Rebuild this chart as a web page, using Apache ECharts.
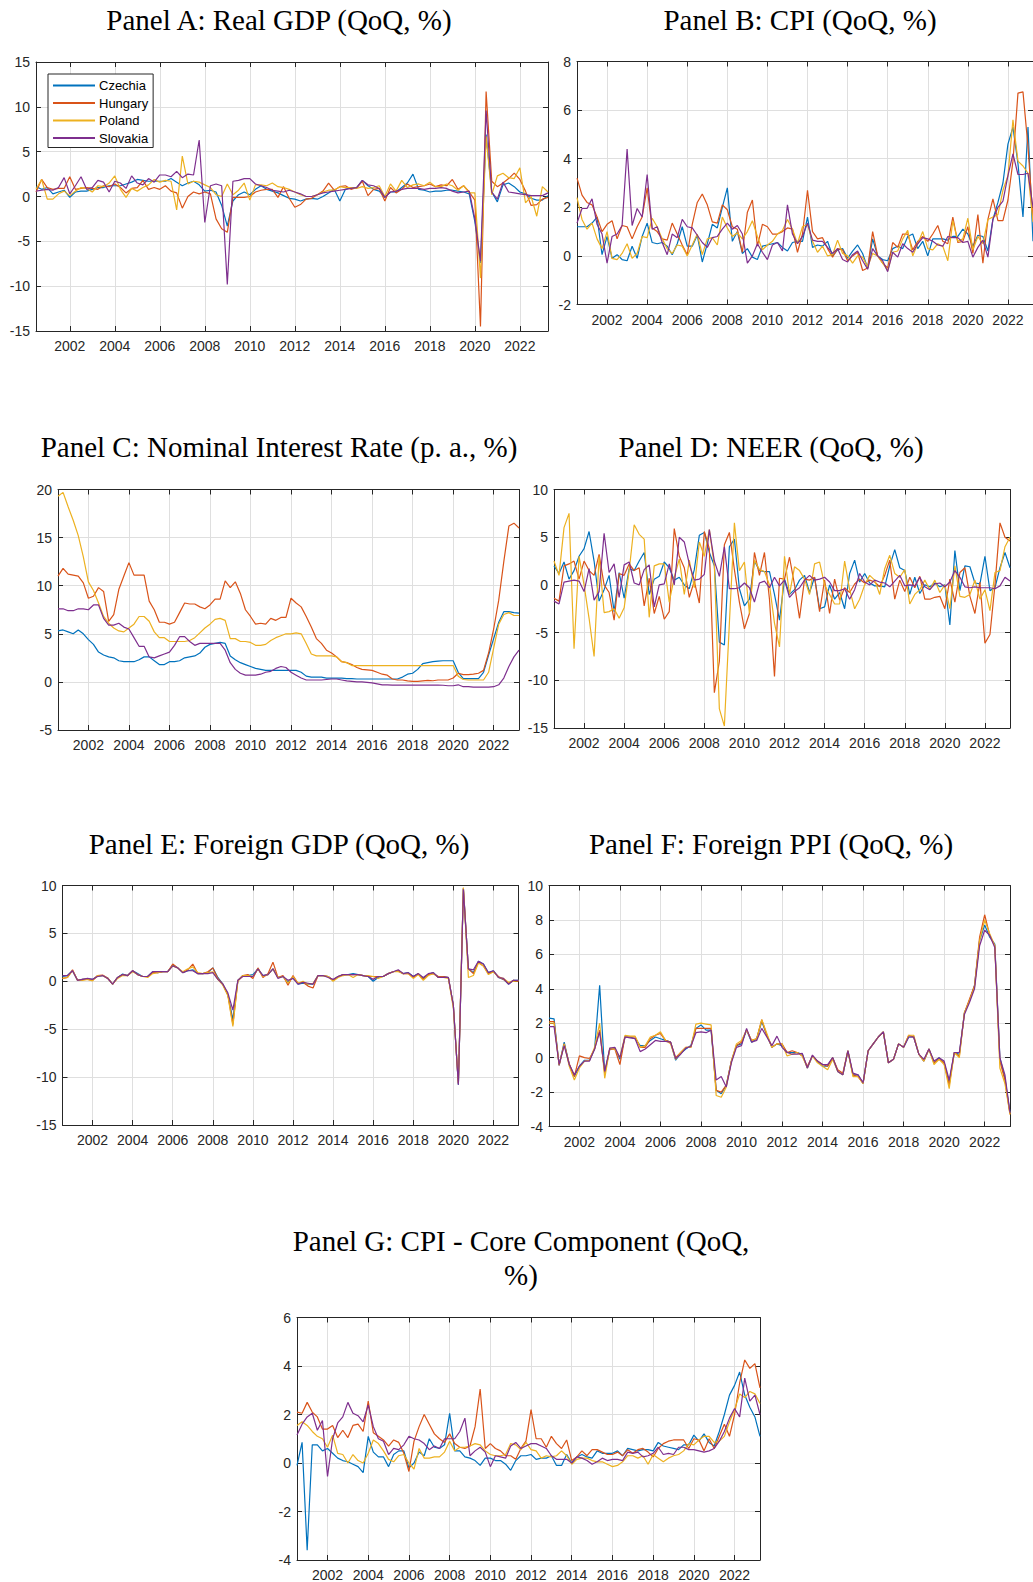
<!DOCTYPE html>
<html><head><meta charset="utf-8">
<script src="https://cdn.jsdelivr.net/npm/echarts@6/dist/echarts.min.js"></script>
<style>html,body{margin:0;padding:0;background:#fff;}#chart{width:1033px;height:1582px;}</style>
</head><body><div id="chart"></div>
<script>
const countries = ['Czechia','Hungary','Poland','Slovakia'];
const colors = ['#0072BD','#D95319','#EDB120','#7E2F8E'];
const tickYears = ['2002','2004','2006','2008','2010','2012','2014','2016','2018','2020','2022'];
// quarterly categories 2000Q3 .. 2023Q2
const quarters = [];
for (let y = 2000; y <= 2023; y++) for (let q = 1; q <= 4; q++) {
  if ((y === 2000 && q < 3) || (y === 2023 && q > 2)) continue;
  quarters.push(y + 'Q' + q);
}

// Panel A: Real GDP (QoQ, %)
const gdpCZ = [1.1,0.8,
1.0,0.3,0.5,0.7, -0.1,0.5,0.6,0.6, 0.8,1.0,1.0,1.2, 1.2,1.2,1.4,1.6, 1.9,1.8,1.7,1.7,
1.7,1.7,2.0,1.6, 1.2,1.5,1.7,1.3, 0.6,0.7,0.5,-1.0, -3.3,-0.5,0.2,0.5, 0.2,0.8,1.2,0.8,
0.6,0.4,0.1,-0.2, -0.3,-0.5,-0.3,-0.2, -0.3,0.0,0.4,0.8, -0.5,0.8,1.0,1.0, 1.8,1.2,0.8,0.6,
-0.1,0.5,0.5,1.0, 1.5,2.5,0.8,0.7, 0.5,0.6,0.6,0.7, 0.7,0.6,0.5,0.3, -2.8,-7.4,6.9,0.5,
-0.6,1.3,1.5,1.1, 0.5,0.3,-0.2,-0.4,
-0.4,0.1];
const gdpHU = [0.5,1.9,
1.0,0.8,0.9,0.9, 2.2,0.8,0.9,1.0, 0.9,0.8,1.2,1.1, 1.4,1.0,0.4,0.9, 1.0,1.8,0.8,1.0,
0.8,1.2,0.6,0.4, -1.3,0.0,0.5,0.3, 0.5,0.3,-2.5,-3.6, -4.0,-0.1,-0.1,-0.1, 0.0,0.5,0.7,0.8,
0.8,-0.1,1.1,-0.2, -1.2,-0.9,-0.3,-0.2, 0.2,0.6,1.5,0.7, 1.1,1.2,0.8,1.0, 1.7,0.1,0.8,0.9,
-0.5,1.0,0.4,0.8, 1.4,1.0,1.1,1.2, 1.4,1.1,1.3,1.2, 1.9,0.8,1.2,0.5, -0.4,-14.5,11.7,1.7,
1.1,1.5,2.0,2.6, 1.9,0.6,-1.0,-0.9,
-0.3,-0.1];
const gdpPL = [0.8,1.9,
-0.3,-0.3,0.3,0.6, 0.1,0.6,1.0,0.9, 0.5,1.2,1.1,1.5, 2.3,0.8,-0.1,0.9, 0.6,1.0,1.3,1.9,
1.6,1.8,1.7,-1.5, 4.5,1.4,1.7,1.6, 1.3,1.0,0.2,0.0, 1.4,0.2,0.7,1.5, -0.4,1.3,1.3,1.2,
1.5,1.1,1.0,0.8, 0.5,0.2,0.0,0.0, 0.2,0.5,0.7,0.7, 1.1,1.0,1.0,0.9, 1.1,0.9,1.0,1.2,
0.0,1.4,0.6,1.8, 1.0,1.3,1.4,1.2, 1.6,1.1,1.1,1.4, 1.2,0.7,1.2,0.4, 0.4,-9.1,6.7,0.2,
2.3,2.6,2.1,2.0, 3.2,-0.7,0.0,-2.2,
1.1,0.5];
const gdpSK = [0.6,0.7,
0.8,0.7,1.0,2.1, 0.3,1.2,2.2,0.8, 1.0,1.8,1.6,0.5, 1.7,1.5,0.9,2.3, 1.5,1.3,2.0,1.6,
2.4,2.4,2.2,2.8, 2.1,2.5,2.4,6.3, -2.9,1.2,1.4,1.2, -9.8,1.7,1.8,2.0, 2.0,1.4,1.2,1.0,
0.7,0.6,0.5,0.7, 0.5,0.3,0.0,0.0, 0.2,0.4,0.5,0.6, 0.7,0.8,0.9,1.0, 1.8,1.3,1.2,0.9,
-0.1,0.5,0.6,0.8, 0.9,0.9,0.9,0.8, 0.9,0.9,1.0,0.9, 0.6,0.4,0.5,0.6, -2.5,-7.2,9.6,0.5,
-0.3,1.6,0.5,0.4, 0.3,0.2,0.1,0.1,
0.1,0.4];

// Panel B: CPI (QoQ, %)
const cpiCZ = [1.2,1.2,
1.2,1.35,1.6,0.05, 0.8,-0.1,0.05,-0.15, -0.2,0.4,-0.1,0.8, 1.35,0.55,0.5,0.55, 0.4,0.05,0.5,1.2,
0.4,0.4,0.85,-0.25, 0.5,1.3,1.15,2.0, 2.8,0.6,1.0,0.1, 0.3,-0.05,-0.15,0.4, 0.45,0.5,0.55,0.35,
0.2,0.55,0.6,0.6, 1.6,0.35,0.45,0.4, 0.6,0.0,0.25,0.3, -0.1,0.2,0.45,0.1, -0.5,0.7,0.0,-0.15,
-0.2,0.3,0.4,0.3, 0.8,0.9,0.3,0.6, 0.0,0.7,0.7,0.7, 0.65,0.8,0.8,1.1, 0.9,0.4,0.85,0.8,
0.2,1.5,2.2,3.0, 4.6,5.3,3.8,1.6,
5.3,0.6];
const cpiHU = [3.2,2.5,
2.2,2.1,1.6,1.0, 1.3,1.45,0.7,1.25, 1.2,0.7,1.2,1.6, 2.8,1.15,1.0,0.7, 0.65,1.35,0.9,0.45,
0.05,1.3,2.2,2.55, 2.1,1.4,1.35,2.1, 1.9,1.2,1.1,0.15, 1.8,2.3,0.4,1.3, 1.2,0.9,0.9,1.0,
1.15,1.1,0.15,0.9, 2.7,1.0,0.7,0.75, 0.3,-0.05,0.3,0.25, -0.2,0.0,0.15,-0.6, -0.5,1.0,0.0,-0.3,
-0.5,0.55,0.35,0.9, 0.9,0.25,0.6,0.8, 0.6,0.9,1.25,0.6, 0.5,1.6,0.55,0.6, 1.2,0.1,1.7,-0.3,
1.5,2.35,1.45,1.45, 2.3,3.9,6.7,6.75,
4.5,1.5];
const cpiPL = [2.4,1.5,
1.1,1.35,0.7,0.3, 1.0,-0.1,-0.15,0.1, 0.5,-0.1,0.1,0.8, 0.75,1.55,1.2,0.7, 0.3,0.1,0.45,0.4,
0.0,0.45,0.9,0.05, 0.7,0.75,0.45,1.6, 1.15,0.8,0.95,0.7, 1.0,1.45,0.8,0.25, 0.45,0.6,0.9,1.05,
1.5,1.1,0.5,1.2, 1.3,0.6,0.15,0.4, 0.0,0.05,0.65,0.1, 0.0,-0.3,0.0,-0.05, -0.45,0.1,0.0,-0.3,
-0.6,0.15,0.2,0.7, 1.05,0.0,0.5,1.0, 0.3,0.25,0.5,0.4, -0.2,1.45,0.6,0.7, 1.55,0.25,0.8,0.5,
1.5,1.6,1.7,2.7, 3.3,5.6,3.9,3.7,
3.4,1.4];
const cpiSK = [1.35,1.95,
1.95,2.35,1.3,0.9, -0.3,0.8,0.9,1.25, 4.4,1.25,1.95,1.6, 3.35,1.1,1.2,0.55, 0.05,0.9,0.75,1.5,
1.2,1.15,0.85,0.55, 0.35,0.75,0.8,1.1, 1.35,1.1,1.25,0.9, -0.3,0.0,0.5,0.15, -0.15,0.45,0.55,0.2,
2.1,0.9,0.5,0.8, 1.35,0.65,0.6,0.6, 0.35,0.1,0.3,-0.15, -0.25,0.05,0.2,-0.2, -0.55,0.3,0.0,-0.2,
-0.65,0.15,-0.05,0.5, 0.3,0.15,0.5,0.75, 0.7,0.6,0.45,0.4, 0.8,0.75,0.75,0.55, 0.6,-0.05,0.35,0.65,
-0.05,1.5,2.0,2.25, 3.3,4.2,3.35,3.35,
3.4,2.0];

// Panel C: Nominal interest rate (p. a., %)
const rateCZ = [5.3,5.4,
5.2,5.0,5.4,5.0, 4.4,3.9,3.1,2.8, 2.6,2.5,2.2,2.1, 2.1,2.1,2.3,2.6, 2.6,2.2,1.8,1.8,
2.1,2.1,2.2,2.5, 2.6,2.7,3.0,3.6, 3.9,4.0,4.1,4.0, 2.7,2.3,2.0,1.8, 1.6,1.4,1.3,1.2,
1.2,1.2,1.2,1.2, 1.2,1.2,1.0,0.6, 0.5,0.5,0.5,0.4, 0.4,0.4,0.4,0.35, 0.35,0.3,0.3,0.3,
0.3,0.3,0.3,0.3, 0.3,0.3,0.5,0.8, 0.9,1.3,1.9,2.0, 2.1,2.15,2.2,2.2, 2.2,1.0,0.35,0.35,
0.35,0.35,1.0,2.8, 4.5,6.2,7.3,7.3,
7.2,7.15];
const rateHU = [11.0,11.8,
11.2,11.1,11.0,10.3, 8.7,8.9,9.8,9.4, 6.3,7.0,9.6,11.0, 12.4,11.1,11.1,11.1, 8.4,7.5,6.2,6.2,
6.0,6.2,7.2,8.2, 8.1,8.1,7.8,7.6, 8.0,8.6,8.6,10.5, 9.8,10.4,9.2,7.5, 6.8,6.0,6.1,6.0,
6.6,6.4,6.7,6.7, 8.7,8.2,7.8,6.8, 5.7,4.5,4.0,3.3, 3.0,2.6,2.1,2.0, 1.8,1.5,1.3,1.25,
1.2,1.0,0.8,0.7, 0.3,0.2,0.2,0.1, 0.05,0.05,0.1,0.15, 0.12,0.2,0.2,0.2, 0.4,0.9,0.75,0.75,
0.8,0.9,1.2,3.0, 5.5,8.5,12.5,16.2,
16.5,16.0];
const ratePL = [19.3,19.7,
18.2,16.8,15.2,13.0, 10.4,9.5,8.2,6.8, 6.1,5.6,5.3,5.2, 5.6,6.0,6.8,6.8, 6.3,5.2,4.6,4.6,
4.2,4.2,4.2,4.2, 4.3,4.6,5.1,5.6, 6.0,6.5,6.6,6.4, 4.5,4.5,4.2,4.2, 4.1,3.8,3.8,3.9,
4.3,4.6,4.8,5.0, 5.0,5.1,5.0,4.0, 2.9,2.7,2.7,2.7, 2.7,2.6,2.1,2.0, 1.7,1.7,1.7,1.7,
1.7,1.7,1.7,1.7, 1.7,1.7,1.7,1.7, 1.7,1.7,1.7,1.7, 1.7,1.7,1.7,1.7, 1.7,0.6,0.25,0.2,
0.2,0.2,0.2,1.0, 3.5,6.0,7.0,7.2,
6.9,6.9];
const rateSK = [7.6,7.6,
7.4,7.4,7.6,7.6, 7.5,8.0,8.0,6.6, 5.9,5.9,6.1,5.7, 5.5,4.6,3.7,3.7, 2.6,2.5,2.7,2.9,
3.1,3.8,4.7,4.7, 4.2,3.8,4.0,4.0, 4.0,4.0,4.0,3.3, 2.0,1.3,0.9,0.7, 0.7,0.7,0.8,1.0,
1.1,1.4,1.6,1.5, 1.0,0.7,0.4,0.2, 0.2,0.2,0.2,0.25, 0.3,0.3,0.2,0.1, 0.05,0.0,0.0,-0.05,
-0.1,-0.2,-0.3,-0.3, -0.33,-0.33,-0.33,-0.33, -0.33,-0.33,-0.33,-0.33, -0.33,-0.33,-0.35,-0.4, -0.4,-0.3,-0.5,-0.5,
-0.55,-0.55,-0.55,-0.55, -0.5,-0.3,0.4,1.6,
2.6,3.3];

// Panel D: NEER (QoQ, %)
const neerCZ = [2.0,1.2,
2.4,0.6,1.5,3.0, 3.8,5.6,2.5,-1.7, -0.5,1.0,-2.8,1.3, -1.4,1.7,1.5,2.5, 3.4,-1.0,0.6,0.9,
2.4,1.8,0.5,0.8, 0.0,-0.4,1.6,5.2, 5.5,3.4,2.0,-6.0, -6.3,4.0,4.8,-0.4, -2.2,-1.5,2.5,1.5,
1.4,1.4,-1.0,-3.7, 0.6,-1.0,-0.5,0.5, 1.0,-0.8,0.8,-2.5, -2.3,0.0,-1.5,-0.8, -2.5,1.2,2.6,0.3,
1.2,0.2,-0.1,-0.1, -0.2,2.0,3.7,1.8, 1.5,-1.0,0.8,-0.9, 0.0,-0.2,0.2,-0.2, 0.0,-4.2,3.6,-0.6,
2.0,1.9,0.2,0.1, 3.0,-0.6,-0.3,1.8,
3.4,1.8];
const neerHU = [-1.4,-1.7,
2.0,2.2,2.5,0.6, 2.5,1.5,1.0,3.2, 0.0,-0.8,-3.7,1.2, 1.0,2.2,1.5,1.8, -2.2,0.7,-3.0,-1.2,
-3.6,-2.8,5.9,3.0, 1.8,-1.3,0.4,-1.9, 5.6,3.8,-11.3,-8.0, 4.2,5.5,1.6,-1.8, -4.6,-3.0,3.4,1.0,
3.4,-1.5,-9.6,0.7, 0.6,2.9,0.0,-3.5, 0.6,0.5,0.8,-2.8, 0.5,-3.0,0.6,-1.6, -0.3,-0.8,0.1,0.6,
0.2,0.5,0.3,-0.2, 1.0,2.6,-1.5,0.5, -0.7,0.8,-0.3,0.9, -1.5,-1.5,-1.3,-1.2, -2.5,0.6,-1.8,1.3,
1.8,-1.2,-3.0,0.3, -6.1,-5.2,0.0,6.5,
5.0,4.6];
const neerPL = [2.5,1.0,
6.0,7.5,-6.7,3.0, 0.0,-3.5,-7.5,3.0, -2.9,-2.8,-2.5,-3.5, -2.4,1.5,6.3,5.3, 4.8,-3.4,2.0,2.2,
2.2,-1.8,0.8,2.7, -1.0,2.6,-0.3,4.5, 3.0,5.8,2.0,-13.0, -14.8,-4.0,6.5,1.5, 2.4,-3.0,2.6,1.6,
1.4,0.0,-4.0,-6.5, 3.0,-1.0,1.9,1.5, 0.6,-1.0,2.2,2.4, 0.0,-1.0,-2.0,-2.0, 2.5,-0.5,-2.5,-1.5,
0.0,1.0,0.5,-1.0, 1.7,3.1,1.2,0.8, 1.6,-2.0,-1.0,-0.5, 0.5,-0.5,0.5,-0.8, 0.0,-2.5,2.0,-1.2,
-1.3,-1.0,0.5,-1.5, -0.5,-2.7,1.3,1.5,
4.0,5.0];
const neerSK = [-1.7,-2.0,
0.3,0.4,0.5,0.4, -0.7,1.7,-1.6,-0.7, 5.4,1.3,2.2,-1.3, 2.1,2.4,0.2,0.0, 1.6,2.1,-2.3,0.0,
0.1,2.2,0.0,5.0, 4.5,2.2,0.5,0.6, 1.1,5.8,2.5,0.9, 4.0,-0.4,-0.4,-0.3, 0.2,-0.3,-1.8,0.2,
0.4,-0.3,0.8,-0.1, 0.5,-1.3,-0.7,-0.3, 0.5,1.0,0.5,0.6, 0.8,0.3,-0.6,-0.6, -0.4,-1.5,-0.5,1.2,
0.3,0.0,0.5,0.3, 0.2,-0.2,0.4,1.0, -0.1,0.0,-0.1,0.8, -0.2,-0.5,0.1,0.2, -0.2,0.3,1.5,0.8,
-0.2,-0.3,-0.2,-0.3, -0.3,-0.3,-0.4,-0.1,
0.8,0.4];

// Panel E: Foreign GDP (QoQ, %)
const fgdpCZ = [0.5,0.6,
1.1,0.1,0.2,0.25, 0.2,0.55,0.6,0.35, -0.3,0.4,0.75,0.6, 1.1,0.8,0.5,0.5, 1.0,0.9,1.0,1.0,
1.7,1.4,0.9,1.1, 1.2,0.8,0.8,0.9, 1.4,0.4,-0.3,-1.4, -4.0,0.1,0.6,0.6, 0.7,1.3,0.6,0.7,
1.3,0.4,0.5,-0.1, 0.4,-0.3,-0.2,-0.3, -0.3,0.6,0.6,0.5, 0.1,0.5,0.7,0.7, 0.8,0.7,0.6,0.5,
0.0,0.4,0.5,0.8, 1.0,1.1,0.8,0.9, 0.5,0.8,0.3,0.7, 0.9,0.4,0.5,0.4, -2.5,-10.8,9.7,1.3,
0.9,2.1,1.8,0.9, 1.1,0.4,0.2,-0.3,
0.1,0.1];
const fgdpHU = [0.3,0.4,
1.2,0.1,0.2,0.2, 0.1,0.6,0.65,0.35, -0.3,0.4,0.7,0.6, 1.1,0.7,0.5,0.5, 0.9,0.9,1.0,1.0,
1.8,1.4,0.9,1.2, 1.8,0.8,0.8,1.0, 1.4,0.3,-0.3,-1.4, -4.5,0.1,0.6,0.7, 0.3,1.4,0.4,0.8,
2.0,0.4,0.6,-0.4, 0.6,-0.2,-0.1,-0.5, -0.7,0.6,0.6,0.5, 0.1,0.5,0.7,0.7, 0.7,0.7,0.6,0.5,
0.5,0.5,0.5,0.8, 1.0,1.1,0.8,0.8, 0.4,0.8,0.2,0.7, 0.8,0.5,0.5,0.4, -2.5,-10.7,9.7,1.3,
0.8,2.0,1.6,0.8, 1.0,0.5,0.2,-0.2,
0.1,0.0];
const fgdpPL = [0.3,0.4,
1.1,0.1,0.1,0.2, 0.05,0.6,0.6,0.3, -0.3,0.3,0.6,0.6, 1.0,0.7,0.5,0.4, 0.8,0.9,1.0,1.0,
1.6,1.4,1.0,1.3, 1.5,0.9,0.8,0.9, 1.0,0.2,-0.4,-1.5, -4.7,0.0,0.6,0.6, 0.5,1.3,0.5,0.7,
1.3,0.4,0.5,-0.2, 0.5,-0.2,0.0,-0.3, -0.2,0.6,0.6,0.5, 0.0,0.4,0.6,0.7, 0.4,0.7,0.6,0.6,
0.5,0.3,0.5,0.8, 1.0,1.0,0.8,0.8, 0.3,0.7,0.1,0.6, 0.8,0.4,0.4,0.3, -2.8,-10.6,9.8,0.4,
0.6,1.9,1.6,0.7, 1.0,0.4,0.3,-0.1,
0.0,0.1];
const fgdpSK = [0.6,0.6,
1.1,0.1,0.2,0.3, 0.2,0.5,0.6,0.3, -0.3,0.4,0.7,0.6, 1.1,0.7,0.5,0.5, 1.0,1.0,1.0,1.0,
1.6,1.4,0.9,1.1, 1.1,0.8,0.8,0.8, 0.9,0.2,-0.3,-1.2, -3.0,0.1,0.5,0.5, 0.5,1.3,0.6,0.7,
1.3,0.3,0.5,0.1, 0.3,-0.3,-0.1,-0.2, -0.3,0.6,0.6,0.4, 0.2,0.5,0.7,0.7, 0.7,0.7,0.6,0.5,
0.2,0.5,0.5,0.8, 1.0,1.2,0.8,0.9, 0.5,0.8,0.4,0.8, 0.9,0.4,0.4,0.4, -2.5,-10.8,9.6,1.3,
1.2,2.1,1.8,0.9, 1.1,0.4,0.3,-0.3,
0.1,0.1];

// Panel F: Foreign PPI (QoQ, %)
const fppiCZ = [2.3,2.25,
-0.45,0.9,-0.4,-1.1, -0.5,-0.15,-0.15,0.5, 4.2,-0.9,0.5,0.55, -0.1,1.2,1.2,1.1, 0.7,0.7,1.0,1.2,
1.1,1.0,0.9,-0.15, 0.25,0.5,0.7,1.7, 1.9,1.6,1.6,-1.9, -2.1,-1.6,-0.2,0.7, 0.8,1.6,0.9,1.1,
2.1,1.3,0.6,0.8, 0.7,0.3,0.3,0.3, 0.2,-0.6,0.1,-0.2, -0.5,-0.5,0.0,-0.8, -1.0,0.4,-1.0,-1.0,
-1.5,0.4,0.8,1.2, 1.5,-0.3,-0.1,0.8, 0.6,1.2,1.2,0.2, -0.2,0.5,-0.3,0.0, -0.3,-1.5,0.3,0.2,
2.6,3.3,4.2,6.8, 7.7,7.0,6.6,0.0,
-1.2,-3.2];
const fppiHU = [2.1,2.1,
-0.45,0.8,-0.35,-1.1, 0.1,0.0,-0.05,0.5, 1.6,-0.9,0.5,0.5, -0.4,1.2,1.2,1.2, 0.6,0.6,1.1,1.3,
1.4,1.0,0.9,0.0, 0.3,0.6,0.6,1.7, 1.7,1.7,1.7,-1.9, -2.0,-1.6,-0.2,0.7, 0.9,1.6,1.0,1.1,
2.2,1.3,0.6,0.8, 0.8,0.3,0.4,0.3, 0.1,-0.5,0.1,-0.2, -0.4,-0.5,0.0,-0.7, -0.9,0.4,-1.0,-1.1,
-1.5,0.4,0.8,1.2, 1.5,-0.3,-0.1,0.8, 0.6,1.3,1.2,0.2, -0.2,0.5,-0.3,-0.1, -0.3,-1.6,0.3,0.1,
2.6,3.4,4.2,7.0, 8.3,7.1,6.5,-0.2,
-1.3,-3.3];
const fppiPL = [2.0,2.0,
-0.4,0.8,-0.5,-1.3, -0.6,-0.2,-0.15,0.6, 2.0,-1.2,0.55,0.5, 0.0,1.3,1.25,1.25, 0.6,0.7,1.2,1.3,
1.5,1.0,0.8,-0.1, 0.3,0.6,0.6,1.95, 2.0,1.95,1.9,-2.2, -2.3,-1.7,-0.2,0.8, 1.0,1.6,1.0,1.1,
2.2,1.4,0.6,0.8, 0.8,0.1,0.2,0.3, 0.1,-0.6,0.1,-0.3, -0.5,-0.7,-0.1,-0.8, -1.0,0.4,-1.1,-1.1,
-1.5,0.4,0.8,1.2, 1.5,-0.3,-0.1,0.8, 0.6,1.3,1.3,0.2, -0.2,0.5,-0.4,-0.1, -0.4,-1.8,0.3,0.0,
2.6,3.3,4.1,6.8, 8.0,7.2,6.5,-0.6,
-1.5,-3.3];
const fppiSK = [1.8,1.8,
-0.4,0.7,-0.4,-1.0, -0.5,-0.2,-0.2,0.5, 1.5,-0.8,0.55,0.6, 0.0,1.2,1.15,1.1, 0.35,0.5,0.75,1.0,
0.95,0.95,0.9,-0.05, 0.2,0.55,0.65,1.45, 1.5,1.45,1.6,-1.3, -1.1,-1.7,-0.3,0.6, 0.7,1.7,0.9,1.0,
1.7,1.2,0.7,1.25, 0.6,0.3,0.2,0.2, 0.25,-0.6,0.15,-0.2, -0.4,-0.4,0.0,-0.8, -1.0,0.4,-0.9,-1.0,
-1.45,0.4,0.8,1.2, 1.5,-0.3,-0.1,0.8, 0.6,1.2,1.2,0.2, -0.1,0.5,-0.2,0.0, -0.2,-1.3,0.3,0.3,
2.5,3.2,4.0,6.5, 7.4,7.1,6.4,0.0,
-1.0,-3.2];

// Panel G: CPI - core component (QoQ, %)
const coreCZ = [-0.1,0.85,
-3.6,0.75,0.75,0.5, 0.6,0.4,0.2,0.1, 0.05,-0.05,-0.15,-0.4, 1.1,0.45,0.25,0.25, -0.15,0.35,0.5,0.5,
-0.2,0.0,0.45,0.3, 1.0,0.65,0.6,0.75, 2.05,0.5,0.5,0.25, 0.2,0.1,-0.1,0.2, 0.2,0.1,0.1,-0.05,
-0.3,0.1,0.3,0.3, 0.35,0.15,0.2,0.2, 0.3,-0.1,-0.1,0.35, 0.0,0.25,0.35,0.25, 0.2,0.5,0.4,0.4,
0.4,0.5,0.3,0.6, 0.55,0.5,0.55,0.55, 0.5,0.85,0.7,0.65, 0.6,0.55,0.75,0.75, 1.15,0.9,1.2,0.85,
0.7,1.3,2.0,2.8, 3.2,3.75,2.8,2.3,
1.9,1.1];
const coreHU = [2.1,2.05,
2.5,2.1,1.9,1.4, 1.4,1.55,1.05,1.35, 1.05,1.55,1.6,1.3, 2.55,1.25,1.1,0.95, 0.7,0.95,0.85,0.4,
-0.35,0.9,1.5,2.0, 1.6,1.2,1.0,0.85, 1.2,0.8,0.65,0.6, 0.7,1.5,3.05,0.6, 0.8,0.6,0.5,0.3,
0.3,0.15,0.6,0.9, 2.2,1.0,1.0,0.65, 1.1,0.8,0.6,0.95, 0.1,0.25,0.5,0.3, 0.55,0.55,0.45,0.35,
0.35,0.45,0.3,0.55, 0.4,0.55,0.6,0.45, 0.25,0.6,0.8,0.9, 0.95,0.95,0.95,0.6, 1.0,0.95,0.5,1.0,
0.6,1.1,1.6,1.1, 2.0,3.3,4.25,3.9,
4.1,3.1];
const corePL = [1.55,1.7,
1.55,1.3,1.1,1.0, 0.65,1.15,0.4,0.35, 0.0,0.35,0.1,0.0, 0.4,0.95,0.8,0.5, 0.15,0.05,0.3,0.35,
0.0,-0.25,0.6,0.2, 0.2,0.25,0.25,0.45, 0.9,0.5,0.65,0.65, 0.7,0.8,0.75,0.5, 0.35,0.3,0.3,0.35,
0.8,0.75,0.55,0.85, 0.55,0.5,0.2,0.3, 0.25,0.3,0.5,0.3, -0.05,0.15,0.2,0.2, 0.1,0.05,0.05,-0.05,
-0.15,-0.1,0.05,0.3, 0.3,0.2,0.3,-0.05, 0.35,0.2,0.05,0.2, 0.3,0.35,0.5,0.8, 0.75,0.95,1.1,1.1,
0.85,0.9,1.1,1.7, 2.2,2.85,2.7,2.95,
2.85,2.45];
const coreSK = [1.15,1.6,
1.9,2.05,1.35,1.75, -0.55,1.0,1.65,1.9, 2.5,2.05,1.95,1.7, 2.4,1.5,1.0,0.9, 0.35,0.6,0.55,0.75,
1.1,1.0,0.95,0.8, 0.55,0.7,0.6,1.0, 1.0,1.0,1.3,1.85, 0.3,0.5,0.65,0.45, -0.15,0.3,0.25,0.2,
0.7,0.85,0.6,0.7, 0.8,0.8,0.7,0.6, 0.3,0.15,0.15,0.15, 0.0,0.25,0.2,0.1, -0.05,0.05,0.2,0.1,
0.15,0.15,0.1,0.45, 0.4,0.45,0.25,0.3, 0.4,0.65,0.35,0.4, 0.35,0.65,0.65,0.55, 0.55,0.5,0.45,0.5,
0.6,0.9,1.3,1.85, 2.25,1.9,3.5,2.55,
2.8,2.0];

const panels = [
  {title:'Panel A: Real GDP (QoQ, %)', data:[gdpCZ,gdpHU,gdpPL,gdpSK], y:[-15,15,5], rect:[36,62,512,269], tx:279, ty:20},
  {title:'Panel B: CPI (QoQ, %)', data:[cpiCZ,cpiHU,cpiPL,cpiSK], y:[-2,8,2], rect:[577,61.5,463,243], tx:800, ty:20},
  {title:'Panel C: Nominal Interest Rate (p. a., %)', data:[rateCZ,rateHU,ratePL,rateSK], y:[-5,20,5], rect:[58,489.5,461,240.5], tx:279, ty:447},
  {title:'Panel D: NEER (QoQ, %)', data:[neerCZ,neerHU,neerPL,neerSK], y:[-15,10,5], rect:[554,489.5,456,238.5], tx:771, ty:447},
  {title:'Panel E: Foreign GDP (QoQ, %)', data:[fgdpCZ,fgdpHU,fgdpPL,fgdpSK], y:[-15,10,5], rect:[62.5,885.5,456,239.5], tx:279, ty:844},
  {title:'Panel F: Foreign PPI (QoQ, %)', data:[fppiCZ,fppiHU,fppiPL,fppiSK], y:[-4,10,2], rect:[549,885.5,461,241], tx:771, ty:844},
  {title:'Panel G: CPI - Core Component (QoQ,\n%)', data:[coreCZ,coreHU,corePL,coreSK], y:[-4,6,2], rect:[297,1317.5,463,242.5], tx:521, ty:1258}
];

const AX = '#262626', GRIDC = '#dfdfdf';
const isTick = (idx, val) => String(val).endsWith('Q1') && tickYears.includes(String(val).slice(0,4));

const grid = [], xAxis = [], yAxis = [], series = [], graphic = [];
panels.forEach((p, k) => {
  grid.push({left:p.rect[0], top:p.rect[1], width:p.rect[2], height:p.rect[3], show:false});
  xAxis.push({type:'category', gridIndex:k, data:quarters, boundaryGap:false, position:'bottom',
    axisLine:{onZero:false, lineStyle:{color:AX, width:1}},
    axisTick:{inside:true, length:5, interval:isTick, lineStyle:{color:AX}},
    axisLabel:{interval:isTick, formatter:v => v.slice(0,4), color:AX, fontSize:14, fontFamily:'Liberation Sans', margin:8},
    splitLine:{show:true, interval:isTick, lineStyle:{color:GRIDC, width:1}}});
  xAxis.push({type:'category', gridIndex:k, data:quarters, boundaryGap:false, position:'top',
    axisLine:{onZero:false, lineStyle:{color:AX, width:1}},
    axisTick:{inside:true, length:5, interval:isTick, lineStyle:{color:AX}},
    axisLabel:{show:false}, splitLine:{show:false}});
  yAxis.push({type:'value', gridIndex:k, min:p.y[0], max:p.y[1], interval:p.y[2], position:'left',
    axisLine:{show:true, onZero:false, lineStyle:{color:AX, width:1}},
    axisTick:{show:true, inside:true, length:5, lineStyle:{color:AX}},
    axisLabel:{color:AX, fontSize:14, fontFamily:'Liberation Sans', margin:6},
    splitLine:{show:true, lineStyle:{color:GRIDC, width:1}}});
  yAxis.push({type:'value', gridIndex:k, min:p.y[0], max:p.y[1], interval:p.y[2], position:'right',
    axisLine:{show:true, onZero:false, lineStyle:{color:AX, width:1}},
    axisTick:{show:true, inside:true, length:5, lineStyle:{color:AX}},
    axisLabel:{show:false}, splitLine:{show:false}});
  p.data.forEach((arr, j) => {
    series.push({type:'line', name:countries[j], xAxisIndex:2*k, yAxisIndex:2*k, data:arr,
      symbol:'none', showSymbol:false, silent:true, animation:false,
      lineStyle:{width:1.2, color:colors[j]}, itemStyle:{color:colors[j]}, z:2+j});
  });
  graphic.push({type:'text', x:p.tx, y:p.ty, silent:true,
    style:{text:p.title, fill:'#000', fontFamily:'Liberation Serif', fontSize:29, lineHeight:34,
      textAlign:'center', textVerticalAlign:'middle', align:'center', verticalAlign:'middle'}});
});

const chart = echarts.init(document.getElementById('chart'), null, {renderer:'svg', width:1033, height:1582});
chart.setOption({
  animation:false,
  backgroundColor:'#fff',
  grid, xAxis, yAxis, series, graphic,
  legend:{data:countries, orient:'vertical', left:48, top:74, padding:[5,5,3,5], itemGap:4.5,
    itemWidth:42, itemHeight:2, icon:'rect', selectedMode:false,
    backgroundColor:'#fff', borderColor:AX, borderWidth:1,
    textStyle:{fontSize:13, fontFamily:'Liberation Sans', color:'#000', padding:[0,0,0,-1]}}
});
</script></body></html>
